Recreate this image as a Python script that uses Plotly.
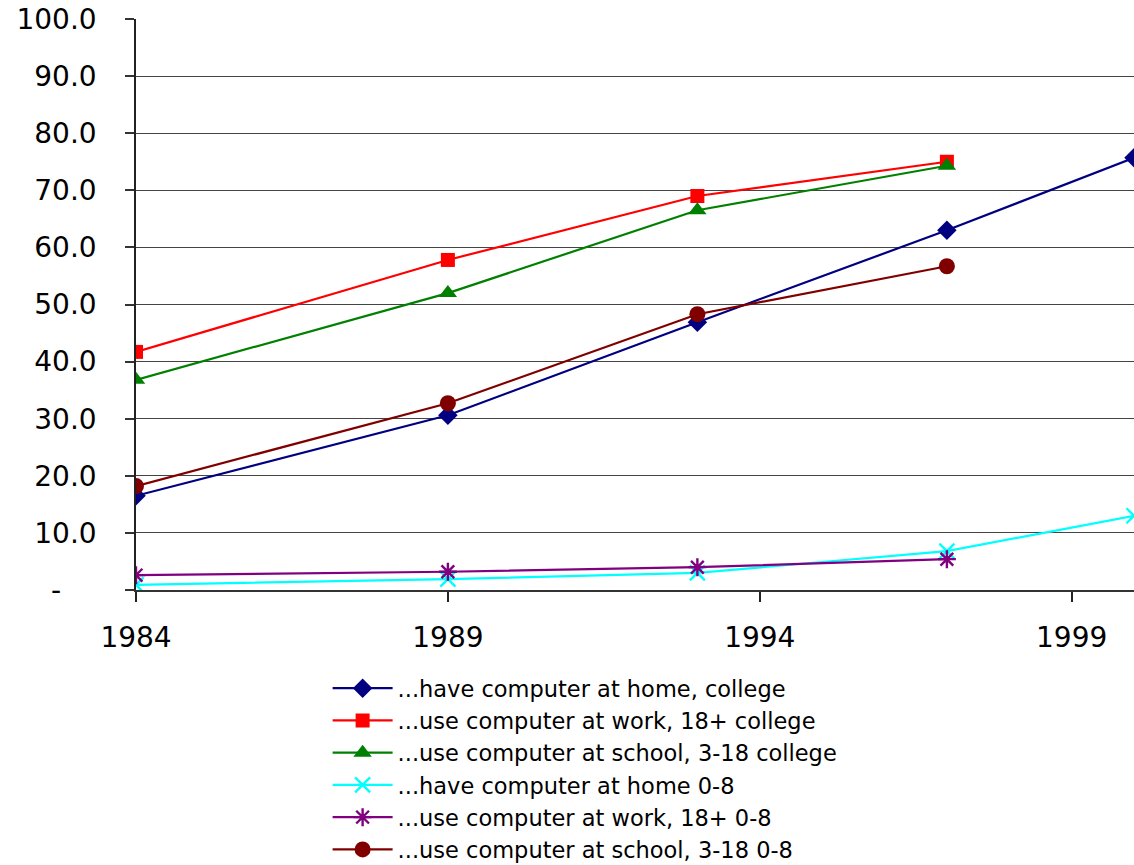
import plotly.graph_objects as go

# Survey years and share (%) for each group
years_full = [1984, 1989, 1993, 1997, 2000]
years_short = [1984, 1989, 1993, 1997]

home_college = [16.5, 30.6, 46.9, 63.0, 75.7]
work_college = [41.7, 57.8, 69.0, 75.0]
school_college = [36.8, 52.0, 66.5, 74.3]
home_0_8 = [0.9, 1.9, 3.0, 6.8, 13.0]
work_0_8 = [2.6, 3.2, 4.0, 5.4]
school_0_8 = [18.2, 32.7, 48.3, 56.7]

series_names = [
    "...have computer at home, college",
    "...use computer at work, 18+ college",
    "...use computer at school, 3-18 college",
    "...have computer at home 0-8",
    "...use computer at work, 18+ 0-8",
    "...use computer at school, 3-18 0-8",
]

y_tickvals = [0, 10, 20, 30, 40, 50, 60, 70, 80, 90, 100]
y_ticktext = ["-" + "\u00a0" * 4] + [f"{v:.1f}" for v in y_tickvals[1:]]
x_tickvals = [1984, 1989, 1994, 1999]

FONT = "DejaVu Sans"

fig = go.Figure()

specs = [
    (years_full, home_college, "#000080", "diamond", 15),
    (years_short, work_college, "#FF0000", "square", 14),
    (years_short, school_college, "#008000", "triangle-up", 16),
    (years_full, home_0_8, "#00FFFF", "x-thin", 15),
    (years_short, work_0_8, "#800080", "asterisk", 15),
    (years_short, school_0_8, "#800000", "circle", 16),
]

for (xs, ys, color, symbol, size), name in zip(specs, series_names):
    open_sym = symbol in ("x-thin", "asterisk")
    fig.add_trace(go.Scatter(
        x=xs, y=ys, name=name, mode="lines+markers",
        line=dict(color=color, width=2.2),
        marker=dict(symbol=symbol, size=size, color=color,
                    line=dict(color=color, width=2.4 if open_sym else 0)),
    ))

fig.update_layout(
    width=1134, height=865,
    margin=dict(l=136, r=0, t=19, b=275),
    paper_bgcolor="white", plot_bgcolor="white",
    font=dict(family=FONT, color="black", size=27),
    showlegend=True,
    legend=dict(
        x=0.192, xanchor="left",
        yref="container", y=1 - 667 / 865, yanchor="top",
        font=dict(family=FONT, size=22.5, color="black"),
        bgcolor="rgba(0,0,0,0)", tracegroupgap=0, itemwidth=60,
    ),
    xaxis=dict(
        range=[1984, 2000], tickvals=x_tickvals, ticks="outside",
        ticklen=10, tickwidth=1.5, tickcolor="#222",
        showgrid=False, zeroline=False,
        showline=True, linecolor="#333", linewidth=2,
        ticklabelstandoff=11,
        tickfont=dict(family=FONT, size=28),
    ),
    yaxis=dict(
        range=[0, 100], tickvals=y_tickvals, ticktext=y_ticktext,
        ticks="outside", ticklen=9, tickwidth=1.5, tickcolor="#333",
        showgrid=True, gridcolor="#444", gridwidth=1,
        zeroline=False, showline=True, linecolor="#222", linewidth=1.5,
        ticklabelstandoff=23,
        tickfont=dict(family=FONT, size=28),
    ),
)

fig.write_html("out.html")
